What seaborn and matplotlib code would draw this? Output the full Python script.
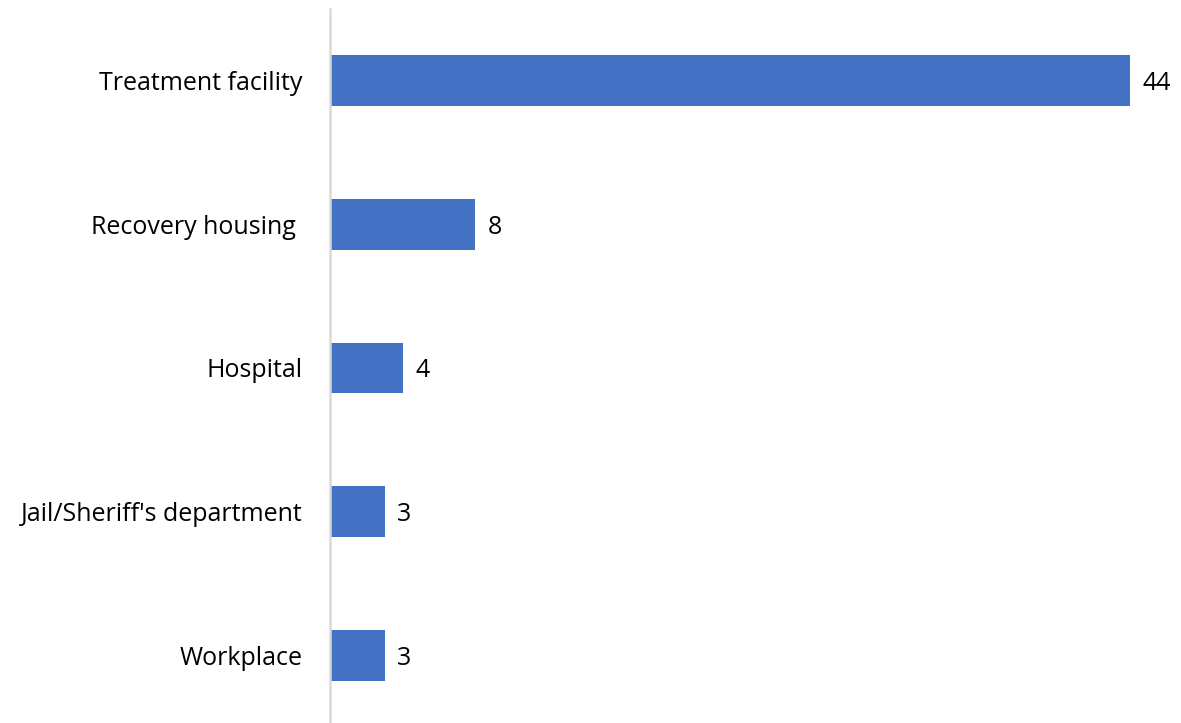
import matplotlib
matplotlib.use("Agg")
import matplotlib.pyplot as plt
import seaborn as sns
import pandas as pd

categories = ["Treatment facility", "Recovery housing ", "Hospital",
              "Jail/Sheriff's department", "Workplace"]
counts = [44, 8, 4, 3, 3]

sns.set_theme(style="white")
plt.rcParams["font.family"] = ["Open Sans", "DejaVu Sans"]

df = pd.DataFrame({"location": categories, "count": counts})

W, H = 1181, 723
fig = plt.figure(figsize=(W / 100, H / 100), dpi=100)
left_px, top_px, bottom_px = 330, 9, 727
ax = fig.add_axes([left_px / W, (H - bottom_px) / H,
                   1 - left_px / W, (bottom_px - top_px) / H])

sns.barplot(data=df, y="location", x="count", orient="h", color="#4472C4",
            width=0.355, saturation=1, linewidth=0, ax=ax)

ax.set_xlim(0, 46.8)
ax.set_ylim(4.5, -0.5)
ax.set_xlabel("")
ax.set_ylabel("")
ax.set_xticks([])

for side in ["top", "right", "bottom"]:
    ax.spines[side].set_visible(False)
ax.spines["left"].set_color("#d9d9d9")
ax.spines["left"].set_linewidth(1.8)
ax.spines["left"].set_zorder(5)

ax.tick_params(axis="y", length=0, pad=20, labelsize=18, labelcolor="black")

for cont in ax.containers:
    texts = ax.bar_label(cont, labels=[str(v) for v in counts], padding=9,
                         fontsize=18, color="black")
    for t in texts:
        t.set_verticalalignment("center_baseline")

fig.savefig("out.png", dpi=100)
